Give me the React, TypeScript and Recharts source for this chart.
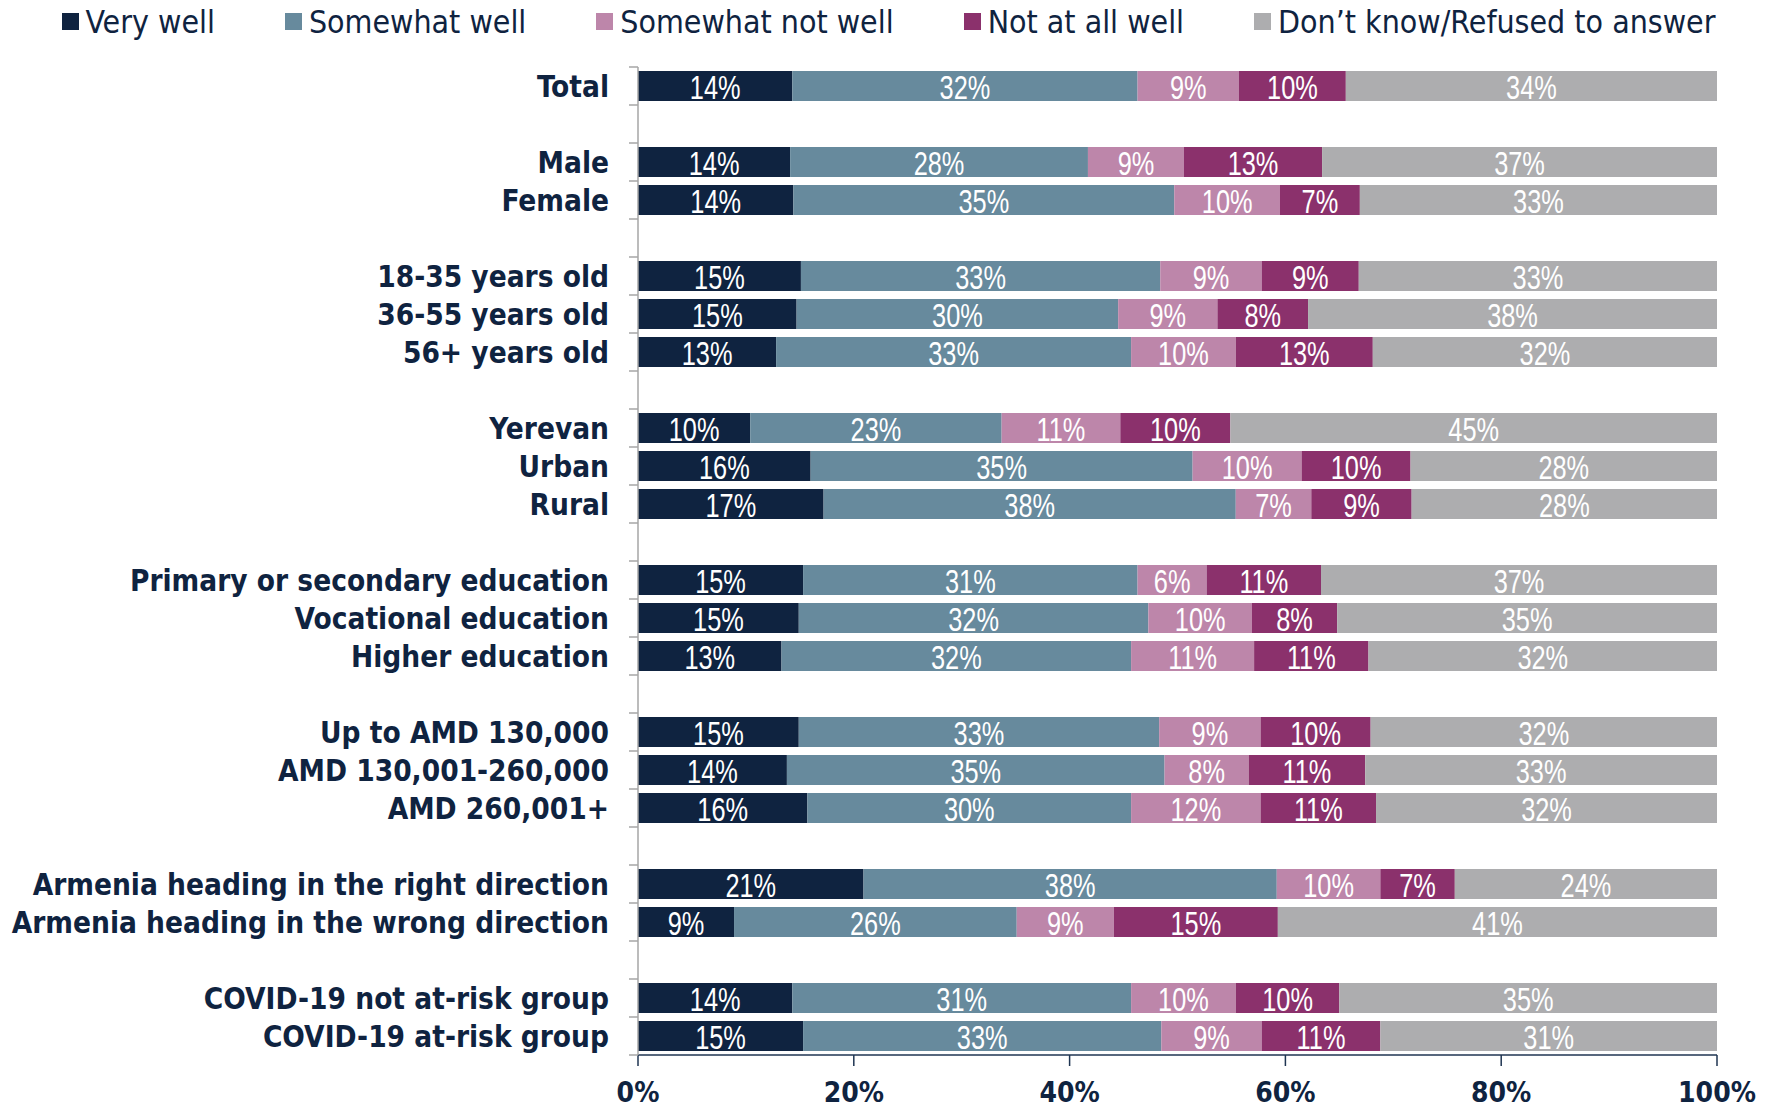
import React from 'react';
import { BarChart, Bar, XAxis, YAxis, Legend, LabelList } from 'recharts';

const CATEGORIES: string[] = [
  'Total', '',
  'Male', 'Female', '',
  '18-35 years old', '36-55 years old', '56+ years old', '',
  'Yerevan', 'Urban', 'Rural', '',
  'Primary or secondary education', 'Vocational education', 'Higher education', '',
  'Up to AMD 130,000', 'AMD 130,001-260,000', 'AMD 260,001+', '',
  'Armenia heading in the right direction', 'Armenia heading in the wrong direction', '',
  'COVID-19 not at-risk group', 'COVID-19 at-risk group',
];

const VERY_WELL: (number | null)[] = [
  14.3, null, 14.1, 14.4, null, 15.1, 14.7, 12.8, null, 10.4, 16.0, 17.2, null,
  15.3, 14.9, 13.3, null, 14.9, 13.8, 15.7, null, 20.9, 8.9, null, 14.3, 15.3,
];
const SOMEWHAT_WELL: (number | null)[] = [
  32.0, null, 27.6, 35.3, null, 33.3, 29.8, 32.9, null, 23.3, 35.4, 38.2, null,
  31.0, 32.4, 32.4, null, 33.4, 35.0, 30.0, null, 38.3, 26.2, null, 31.4, 33.2,
];
const SOMEWHAT_NOT_WELL: (number | null)[] = [
  9.4, null, 8.9, 9.8, null, 9.4, 9.2, 9.7, null, 11.0, 10.1, 7.0, null,
  6.4, 9.6, 11.4, null, 9.4, 7.8, 12.0, null, 9.6, 9.0, null, 9.7, 9.3,
];
const NOT_AT_ALL_WELL: (number | null)[] = [
  9.9, null, 12.8, 7.4, null, 9.0, 8.4, 12.7, null, 10.2, 10.1, 9.3, null,
  10.6, 7.9, 10.6, null, 10.2, 10.8, 10.7, null, 6.9, 15.2, null, 9.6, 11.0,
];
const DONT_KNOW: (number | null)[] = [
  34.4, null, 36.6, 33.1, null, 33.2, 37.9, 31.9, null, 45.1, 28.4, 28.3, null,
  36.7, 35.2, 32.3, null, 32.1, 32.6, 31.6, null, 24.3, 40.7, null, 35.0, 31.2,
];

const SERIES_NAMES = ['Very well', 'Somewhat well', 'Somewhat not well', 'Not at all well', 'Don\u2019t know/Refused to answer'];
const SERIES_KEYS = ['veryWell', 'somewhatWell', 'somewhatNotWell', 'notAtAllWell', 'dontKnow'];
const SERIES_COLORS = ['#0f2340', '#678a9d', '#bd86aa', '#8b316c', '#adadaf'];
const X_TICKS = [0, 20, 40, 60, 80, 100];

const data = CATEGORIES.map((name, i) => ({
  name,
  veryWell: VERY_WELL[i],
  somewhatWell: SOMEWHAT_WELL[i],
  somewhatNotWell: SOMEWHAT_NOT_WELL[i],
  notAtAllWell: NOT_AT_ALL_WELL[i],
  dontKnow: DONT_KNOW[i],
}));

const NAVY = '#0f2340';
const MAIN_FONT = "'DejaVu Sans Condensed', 'DejaVu Sans', sans-serif";
const LABEL_FONT = "'Liberation Sans', Arial, sans-serif";

const W = 1777;
const H = 1109;
const M_TOP = 27;
const LEGEND_H = 40;
const X_AXIS_H = 54;
const PLOT_H = H - M_TOP - LEGEND_H - X_AXIS_H;
const BAND = PLOT_H / CATEGORIES.length;

const YTick = (props: any) => {
  const { x, y, payload, index } = props;
  return (
    <g>
      <line x1={x - 9} x2={x} y1={y - BAND / 2} y2={y - BAND / 2} stroke="#a6a6a6" strokeWidth={1.5} />
      {index === CATEGORIES.length - 1 && (
        <line x1={x - 9} x2={x} y1={y + BAND / 2} y2={y + BAND / 2} stroke="#a6a6a6" strokeWidth={1.5} />
      )}
      <text
        x={x - 29}
        y={y}
        dy="0.36em"
        textAnchor="end"
        fill={NAVY}
        fontFamily={MAIN_FONT}
        fontWeight="bold"
        fontSize={29.5}
      >
        {payload.value}
      </text>
    </g>
  );
};

const LegendContent = () => (
  <div
    style={{
      height: LEGEND_H,
      display: 'flex',
      justifyContent: 'center',
      alignItems: 'center',
      gap: 70,
      fontFamily: MAIN_FONT,
      fontSize: 31.8,
      color: NAVY,
      whiteSpace: 'nowrap',
      paddingTop: 3,
      boxSizing: 'border-box',
    }}
  >
    {SERIES_NAMES.map((n, i) => (
      <div key={n} style={{ display: 'flex', alignItems: 'center' }}>
        <span style={{ display: 'inline-block', width: 17, height: 17, background: SERIES_COLORS[i], marginRight: 7 }} />
        <span>{n}</span>
      </div>
    ))}
  </div>
);

const ValueLabel = (props: any) => {
  const { x, y, width, height, value } = props;
  if (value === null || value === undefined || isNaN(Number(value))) return null;
  const cx = Number(x) + Number(width) / 2;
  const cy = Number(y) + Number(height) / 2 + 1;
  return (
    <text
      transform={`translate(${cx},${cy}) scale(0.78,1)`}
      x={0}
      y={0}
      dy="0.36em"
      textAnchor="middle"
      fill="#ffffff"
      fontFamily={LABEL_FONT}
      fontSize={32.5}
    >
      {`${Math.round(Number(value))}%`}
    </text>
  );
};

export default function App() {
  return (
    <div style={{ position: 'absolute', left: 0, top: 0, width: W, height: H, background: '#fff' }}>
      <BarChart
        width={W}
        height={H}
        data={data}
        layout="vertical"
        margin={{ top: M_TOP, right: 60, bottom: 0, left: 0 }}
        barSize={30}
      >
        <Legend
          verticalAlign="top"
          align="center"
          height={LEGEND_H}
          content={() => <LegendContent />}
          wrapperStyle={{ top: 0, left: 0, width: W }}
        />
        <XAxis
          type="number"
          domain={[0, 100]}
          ticks={X_TICKS}
          tickFormatter={(v) => `${v}%`}
          height={X_AXIS_H}
          axisLine={{ stroke: '#1f3552', strokeWidth: 1.5 }}
          tickLine={{ stroke: '#1f3552', strokeWidth: 1.5 }}
          tickSize={11}
          tickMargin={16}
          tick={{ fill: NAVY, fontFamily: MAIN_FONT, fontWeight: 'bold', fontSize: 28 }}
          allowDataOverflow
        />
        <YAxis
          type="category"
          dataKey="name"
          width={638}
          interval={0}
          tickLine={false}
          tickSize={0}
          tickMargin={0}
          axisLine={{ stroke: '#a6a6a6', strokeWidth: 1.5 }}
          tick={<YTick />}
        />
        {SERIES_KEYS.map((k, i) => (
          <Bar key={k} dataKey={k} name={SERIES_NAMES[i]} stackId="a" fill={SERIES_COLORS[i]} isAnimationActive={false}>
            <LabelList dataKey={k} content={<ValueLabel />} />
          </Bar>
        ))}
      </BarChart>
    </div>
  );
}
